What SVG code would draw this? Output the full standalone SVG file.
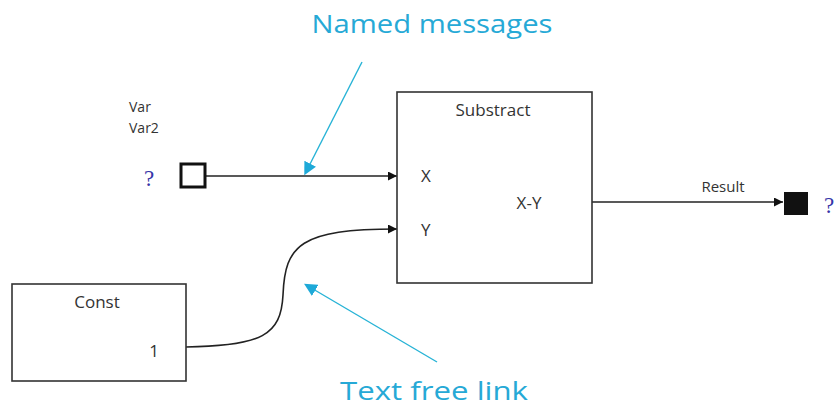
<svg xmlns="http://www.w3.org/2000/svg" width="837" height="409" viewBox="0 0 837 409">
<defs>
<style>
.box{fill:#fff;stroke:#333;stroke-width:1.6}
.t{font-family:"Open Sans","Noto Sans",sans-serif;fill:#333}
.q{font-family:"Liberation Serif",serif;fill:#3535a8;font-size:23px}
.ann{font-family:"Open Sans","Noto Sans",sans-serif;fill:#26a9d6;font-size:26px}
.link{fill:none;stroke:#222;stroke-width:1.6}
.call{fill:none;stroke:#27b3d6;stroke-width:1.4}
</style>
<marker id="ah" viewBox="0 0 10 10" refX="10" refY="5" markerWidth="9" markerHeight="9" markerUnits="userSpaceOnUse" orient="auto">
<path d="M0,0 L10,5 L0,10 z" fill="#111"/>
</marker>
<marker id="ca" viewBox="0 0 10 10" refX="2" refY="5" markerWidth="13" markerHeight="13" markerUnits="userSpaceOnUse" orient="auto">
<path d="M0,0 L10,5 L0,10 z" fill="#1ea9d8"/>
</marker>
</defs>
<rect width="837" height="409" fill="#fff"/>
<g id="connectors">
<path class="link" d="M206,176 L397,176" marker-end="url(#ah)"/>
<path class="link" d="M186,347 C262,346 281,335 283,295 C285,245 300,229 397,229" marker-end="url(#ah)"/>
<path class="link" d="M592,202 L783,202" marker-end="url(#ah)"/>
</g>
<g id="input-var">
<text class="t" x="129" y="112" font-size="14">Var</text>
<text class="t" x="129" y="133" font-size="14">Var2</text>
<text class="q" x="144" y="186">?</text>
<rect x="181" y="164" width="24" height="23" fill="#fff" stroke="#111" stroke-width="3"/>
</g>
<g id="substract">
<rect class="box" x="397" y="92" width="195" height="191"/>
<text class="t" x="493" y="116" font-size="17" text-anchor="middle">Substract</text>
<text class="t" x="421" y="182" font-size="17">X</text>
<text class="t" x="421" y="236" font-size="17">Y</text>
<text class="t" x="529" y="209" font-size="17" text-anchor="middle">X-Y</text>
</g>
<g id="const">
<rect class="box" x="12" y="284" width="174" height="97"/>
<text class="t" x="97" y="308" font-size="17" text-anchor="middle">Const</text>
<text class="t" x="154" y="357" font-size="17" text-anchor="middle">1</text>
</g>
<g id="result">
<text class="t" x="723" y="192" font-size="15" text-anchor="middle">Result</text>
<rect x="784" y="192" width="24" height="23" fill="#111"/>
<text class="q" x="824" y="213">?</text>
</g>
<g id="annotations">
<text class="ann" x="432" y="33" text-anchor="middle" textLength="241" lengthAdjust="spacingAndGlyphs">Named messages</text>
<path class="call" d="M362,62 L309,166" marker-end="url(#ca)"/>
<text class="ann" x="434" y="400" text-anchor="middle" textLength="188" lengthAdjust="spacingAndGlyphs">Text free link</text>
<path class="call" d="M437,362 L313,289" marker-end="url(#ca)"/>
</g>
</svg>
